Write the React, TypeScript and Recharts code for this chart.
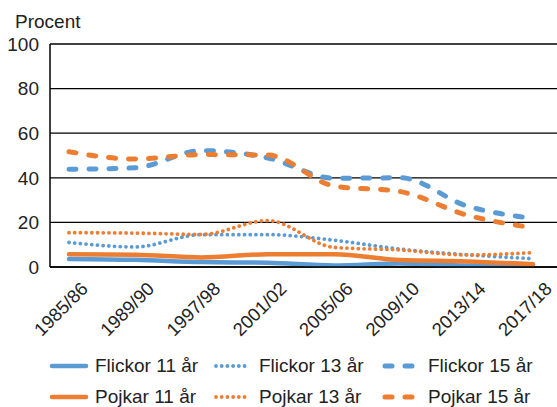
import React from 'react';
import { LineChart, Line, XAxis, YAxis, CartesianGrid, Legend, Label } from 'recharts';

const years = ['1985/86', '1989/90', '1997/98', '2001/02', '2005/06', '2009/10', '2013/14', '2017/18'];
const flickor11 = [3.6, 3.2, 2.2, 1.9, 0.7, 1.6, 0.6, 1.0];
const flickor13 = [11, 9, 14.5, 14.5, 12, 8, 5.5, 3.7];
const flickor15 = [43.8, 44.5, 52.2, 48.9, 39.8, 40, 27.4, 21.8];
const pojkar11 = [5.7, 5.5, 4.3, 5.7, 5.7, 3.1, 2.5, 1.2];
const pojkar13 = [15.4, 15.2, 14.6, 20.8, 8.8, 7.6, 5.4, 6.4];
const pojkar15 = [51.7, 48.4, 50.4, 50.2, 36.3, 33.8, 23.3, 17.6];
const yTicks = [0, 20, 40, 60, 80, 100];

const BLUE = '#5b9bd5';
const ORANGE = '#ed7d31';
const FONT = "'Liberation Sans', Arial, sans-serif";
const TEXT = '#222';

const data = years.map((year, i) => ({
    year,
    f11: flickor11[i],
    f13: flickor13[i],
    f15: flickor15[i],
    p11: pojkar11[i],
    p13: pojkar13[i],
    p15: pojkar15[i],
}));

const styles: Record<string, { width: number; dash?: string }> = {
    solid: { width: 4.5 },
    dotted: { width: 3.8, dash: '0.01 5.7' },
    dashed: { width: 5, dash: '7 13' },
};

const series = [
    { key: 'f11', name: 'Flickor 11 år', color: BLUE, kind: 'solid' },
    { key: 'f13', name: 'Flickor 13 år', color: BLUE, kind: 'dotted' },
    { key: 'f15', name: 'Flickor 15 år', color: BLUE, kind: 'dashed' },
    { key: 'p11', name: 'Pojkar 11 år', color: ORANGE, kind: 'solid' },
    { key: 'p13', name: 'Pojkar 13 år', color: ORANGE, kind: 'dotted' },
    { key: 'p15', name: 'Pojkar 15 år', color: ORANGE, kind: 'dashed' },
];

const XTick = ({ x, y, payload }: any) => {
    const tx = x + 20;
    const ty = y + 23;
    return (
        <text x={tx} y={ty} transform={`rotate(-45, ${tx}, ${ty})`} textAnchor="end"
            fontFamily={FONT} fontSize={18.5} fill={TEXT}>
            {payload.value}
        </text>
    );
};

const colLeft = [49, 213, 382];

const CustomLegend = () => (
    <div style={{ position: 'relative', width: 557, height: 60, fontFamily: FONT, fontSize: 19, color: TEXT }}>
        {series.map((s, i) => {
            const st = styles[s.kind];
            const col = i % 3;
            const row = Math.floor(i / 3);
            return (
                <div key={s.key} style={{
                    position: 'absolute', left: colLeft[col], top: row * 31,
                    display: 'flex', alignItems: 'center', height: 30, whiteSpace: 'nowrap',
                }}>
                    <svg width={40} height={10} style={{ marginRight: 6 }}>
                        <line x1={3} y1={5} x2={37} y2={5} stroke={s.color} strokeWidth={st.width}
                            strokeDasharray={st.dash} strokeLinecap="round" />
                    </svg>
                    <span>{s.name}</span>
                </div>
            );
        })}
    </div>
);

export default function App() {
    return (
        <div style={{ position: 'absolute', left: 0, top: 0, background: '#fff' }}>
            <LineChart width={557} height={407} data={data} margin={{ top: 44, right: 0, left: 0, bottom: 0 }}>
                <CartesianGrid vertical={false} stroke="#000" strokeWidth={1.3} />
                <XAxis dataKey="year" height={140} interval={0} padding={{ left: 19, right: 24 }}
                    axisLine={{ stroke: '#000', strokeWidth: 1.5 }} tickLine={false} tickSize={0} tickMargin={0}
                    tick={<XTick />} />
                <YAxis domain={[0, 100]} ticks={yTicks} width={50} interval={0}
                    axisLine={{ stroke: '#000', strokeWidth: 1.5 }} tickLine={false} tickSize={0} tickMargin={11}
                    tick={{ fontFamily: FONT, fontSize: 19, fill: TEXT }}>
                    <Label content={() => (
                        <text x={15} y={28} fontFamily={FONT} fontSize={19} fill={TEXT}>Procent</text>
                    )} />
                </YAxis>
                {series.map(s => {
                    const st = styles[s.kind];
                    return (
                        <Line key={s.key} type="monotone" dataKey={s.key} name={s.name} stroke={s.color}
                            strokeWidth={st.width} strokeDasharray={st.dash} strokeLinecap="round"
                            dot={false} activeDot={false} isAnimationActive={false} />
                    );
                })}
                <Legend layout="vertical" align="center" verticalAlign="middle" content={<CustomLegend />}
                    wrapperStyle={{ left: 0, top: 351, width: 557, height: 60 }} />
            </LineChart>
        </div>
    );
}
